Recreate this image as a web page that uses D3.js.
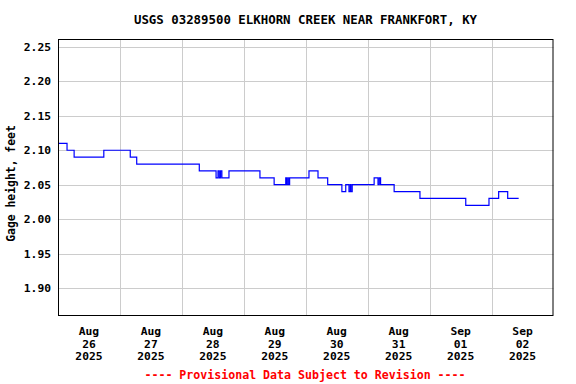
<!DOCTYPE html>
<html>
<head>
<meta charset="utf-8">
<script src="https://cdn.jsdelivr.net/npm/d3@7"></script>
<style>
  html, body { margin: 0; padding: 0; background: #fff; }
  svg { display: block; }
  text { font-family: "DejaVu Sans Mono", "Liberation Mono", monospace; font-weight: bold; }
</style>
</head>
<body>
<svg id="chart" width="576" height="384"></svg>
<script>
const title = "USGS 03289500 ELKHORN CREEK NEAR FRANKFORT, KY";
const yLabel = "Gage height, feet";
const footer = "---- Provisional Data Subject to Revision ----";

// Step changes of gage height (time, value)
const times = [
  "2025-08-26T00:00", "2025-08-26T03:30", "2025-08-26T06:15", "2025-08-26T17:45",
  "2025-08-27T04:00", "2025-08-27T06:30", "2025-08-28T06:45", "2025-08-28T13:15",
  "2025-08-28T14:00", "2025-08-28T14:30", "2025-08-28T15:00", "2025-08-28T15:30",
  "2025-08-28T18:15", "2025-08-29T06:15", "2025-08-29T11:45", "2025-08-29T16:15",
  "2025-08-29T16:30", "2025-08-29T17:00", "2025-08-29T17:15", "2025-08-29T17:45",
  "2025-08-30T01:15", "2025-08-30T04:45", "2025-08-30T08:30", "2025-08-30T14:00",
  "2025-08-30T15:30", "2025-08-30T16:45", "2025-08-30T17:15", "2025-08-30T17:30",
  "2025-08-30T18:00", "2025-08-31T02:30", "2025-08-31T04:00", "2025-08-31T04:30",
  "2025-08-31T05:00", "2025-08-31T10:15", "2025-08-31T20:15", "2025-09-01T14:00",
  "2025-09-01T23:00", "2025-09-02T02:45", "2025-09-02T06:15", "2025-09-02T10:30"
];
const values = [
  2.11, 2.10, 2.09, 2.10,
  2.09, 2.08, 2.07, 2.06,
  2.07, 2.06, 2.07, 2.06,
  2.07, 2.06, 2.05, 2.06,
  2.05, 2.06, 2.05, 2.06,
  2.07, 2.06, 2.05, 2.04,
  2.05, 2.04, 2.05, 2.04,
  2.05, 2.06, 2.05, 2.06,
  2.05, 2.04, 2.03, 2.02,
  2.03, 2.04, 2.03, 2.03
];

const yTicks = [1.90, 1.95, 2.00, 2.05, 2.10, 2.15, 2.20, 2.25];
const xGridDays = ["2025-08-27", "2025-08-28", "2025-08-29", "2025-08-30", "2025-08-31", "2025-09-01", "2025-09-02"];
const xLabelDays = ["2025-08-26T12:00", "2025-08-27T12:00", "2025-08-28T12:00", "2025-08-29T12:00",
                    "2025-08-30T12:00", "2025-08-31T12:00", "2025-09-01T12:00", "2025-09-02T12:00"];
const xDomain = ["2025-08-26T00:00", "2025-09-03T00:00"];
const yDomain = [1.8593, 2.2616];

const parse = d3.timeParse("%Y-%m-%dT%H:%M");
const parseDay = d3.timeParse("%Y-%m-%d");
const data = times.map((t, i) => ({ t: parse(t), v: values[i] }));

const L = 58, R = 553.5, T = 39, B = 316;
const svg = d3.select("#chart");

const x = d3.scaleTime().domain(xDomain.map(parse)).range([L, R]);
const y = d3.scaleLinear().domain(yDomain).range([B, T]);

// Grid
const g = svg.append("g");
g.selectAll("line.hg").data(yTicks).enter().append("line")
  .attr("x1", L).attr("x2", R)
  .attr("y1", d => Math.round(y(d)) + 0.5).attr("y2", d => Math.round(y(d)) + 0.5)
  .attr("stroke", "#cccccc").attr("stroke-width", 1);
g.selectAll("line.vg").data(xGridDays.map(parseDay)).enter().append("line")
  .attr("y1", T).attr("y2", B)
  .attr("x1", d => Math.round(x(d)) + 0.5).attr("x2", d => Math.round(x(d)) + 0.5)
  .attr("stroke", "#cccccc").attr("stroke-width", 1);

// Data line
const line = d3.line().x(d => x(d.t)).y(d => y(d.v)).curve(d3.curveStepAfter);
svg.append("path").datum(data)
  .attr("d", line)
  .attr("fill", "none").attr("stroke", "#0000ff").attr("stroke-width", 1.2);

// Frame
svg.append("rect").attr("x", L + 0.5).attr("y", T + 0.5)
  .attr("width", R - L - 1).attr("height", B - T - 1)
  .attr("fill", "none").attr("stroke", "#000").attr("stroke-width", 1);

// Y tick labels
svg.selectAll("text.yt").data(yTicks).enter().append("text")
  .attr("x", 51).attr("y", d => y(d)).attr("dy", "0.35em")
  .attr("text-anchor", "end").attr("font-size", 11.3)
  .text(d => d.toFixed(2));

// X tick labels
const fmtM = d3.timeFormat("%b"), fmtD = d3.timeFormat("%d"), fmtY = d3.timeFormat("%Y");
const xl = svg.selectAll("g.xl").data(xLabelDays.map(parse)).enter().append("g")
  .attr("transform", d => `translate(${x(d)},0)`);
xl.append("text").attr("y", 334.5).attr("text-anchor", "middle").attr("font-size", 11.3).text(d => fmtM(d));
xl.append("text").attr("y", 347.5).attr("text-anchor", "middle").attr("font-size", 11.3).text(d => fmtD(d));
xl.append("text").attr("y", 360).attr("text-anchor", "middle").attr("font-size", 11.3).text(d => fmtY(d));

// Title
svg.append("text").attr("x", 305.5).attr("y", 24).attr("text-anchor", "middle")
  .attr("font-size", 12.4).text(title);

// Y label
svg.append("text").attr("transform", "translate(15,183.5) rotate(-90)")
  .attr("text-anchor", "middle").attr("font-size", 11.4).text(yLabel);

// Footer
svg.append("text").attr("x", 305).attr("y", 379).attr("text-anchor", "middle")
  .attr("font-size", 11.6).attr("fill", "#ff0000").text(footer);
</script>
</body>
</html>
